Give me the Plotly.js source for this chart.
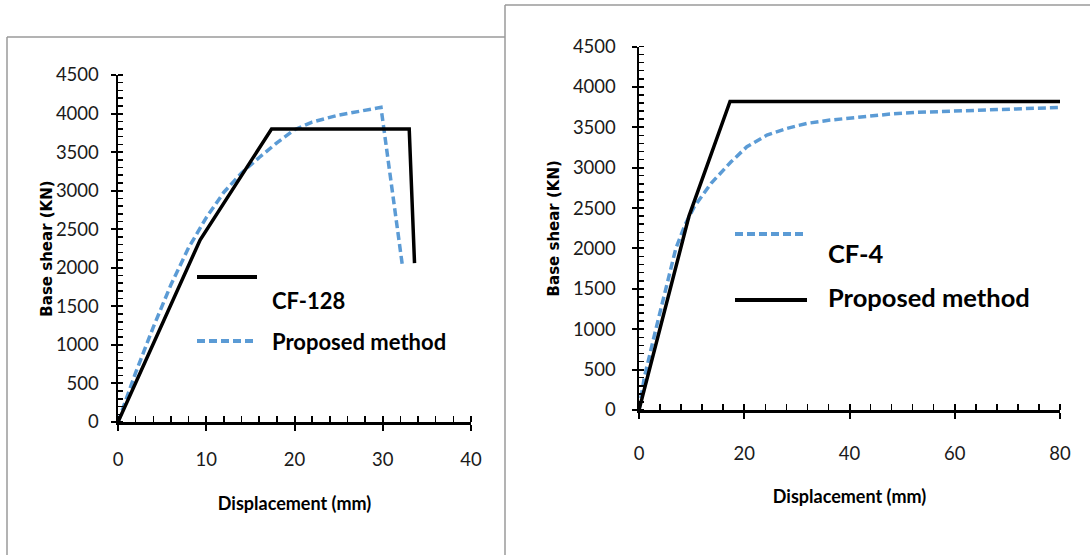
<!DOCTYPE html>
<html><head><meta charset="utf-8">
<script src="https://cdn.plot.ly/plotly-3.0.1.min.js"></script>
<style>html,body{margin:0;padding:0;background:#fff}#chart{width:1090px;height:555px}</style>
</head><body><div id="chart"></div>
<script>
// ---- Left panel data (CF-128 vs Proposed method) ----
const leftCF128Disp  = [0, 9.3, 17.4, 33.0, 33.6];
const leftCF128Shear = [0, 2360, 3800, 3800, 2060];
const leftPropDisp   = [0, 2, 4, 6, 8, 10, 12, 14, 16, 18, 20, 22, 25, 28, 29.8, 32.2];
const leftPropShear  = [0, 640, 1230, 1780, 2260, 2650, 2980, 3230, 3430, 3620, 3790, 3890, 3980, 4040, 4080, 2050];

// ---- Right panel data (CF-4 vs Proposed method) ----
const rightCF4Disp   = [0, 1, 3.2, 5, 7, 8.8, 10.5, 13.7, 17.5, 20.5, 24.3, 28.1, 31.9, 36.3, 42, 47.7, 52.8, 59.1, 65.5, 71.8, 80];
const rightCF4Shear  = [0, 400, 1000, 1480, 2000, 2300, 2516, 2806, 3073, 3259, 3403, 3486, 3548, 3589, 3630, 3663, 3684, 3700, 3713, 3725, 3746];
const rightPropDisp  = [0, 9.5, 17.3, 80];
const rightPropShear = [0, 2400, 3820, 3820];

// ---- Ticks & labels ----
const leftXTicks  = [0, 10, 20, 30, 40];
const rightXTicks = [0, 20, 40, 60, 80];
const yTicks      = [0, 500, 1000, 1500, 2000, 2500, 3000, 3500, 4000, 4500];
const xTitle = 'Displacement (mm)';
const yTitle = 'Base shear (KN)';
const leftLegend  = ['CF-128', 'Proposed method'];
const rightLegend = ['CF-4', 'Proposed method'];

const W = 1090, H = 555;
const px = v => v / W;
const py = v => 1 - v / H;

const BLUE = '#5B9BD5';
const narrow = 'Lato, "Liberation Sans", sans-serif';
const tickFont = {family: narrow, size: 18.5, color: '#1a1a1a'};
const xTitleFont = {family: narrow, size: 18, color: '#000', weight: 'bold'};
const yTitleFont = {family: '"DejaVu Sans",Verdana,sans-serif', size: 15, color: '#000', weight: 'bold'};

function mainX(domain, range, ticks, minorDtick, anchor, standoffLbl, titleStandoff) {
  return {domain, range, anchor, tickmode: 'array', tickvals: ticks, ticktext: ticks.map(String),
    ticks: 'outside', ticklen: 6, tickwidth: 2, tickcolor: '#000',
    showline: true, linecolor: '#000', linewidth: 2.5, showgrid: false, zeroline: false,
    minor: {tickmode: 'linear', tick0: 0, dtick: minorDtick, ticks: 'inside', ticklen: 6, tickwidth: 1.5, tickcolor: '#000', showgrid: false},
    tickfont: tickFont, ticklabelstandoff: standoffLbl, automargin: false, fixedrange: true,
    title: {text: xTitle, font: xTitleFont, standoff: titleStandoff}};
}
function overX(base, range, ticks, anchor) {
  return {overlaying: base, anchor, range, tickmode: 'array', tickvals: ticks,
    ticks: 'inside', ticklen: 6, tickwidth: 2, tickcolor: '#000', showticklabels: false,
    showline: false, showgrid: false, zeroline: false, automargin: false, fixedrange: true};
}
function mainY(domain, anchor, standoffLbl, titleStandoff) {
  return {domain, range: [0, 4500], anchor, tickmode: 'array', tickvals: yTicks, ticktext: yTicks.map(String),
    ticks: 'outside', ticklen: 5, tickwidth: 2, tickcolor: '#000',
    showline: true, linecolor: '#000', linewidth: 2.5, showgrid: false, zeroline: false,
    minor: {tickmode: 'linear', tick0: 0, dtick: 100, ticks: 'inside', ticklen: 5, tickwidth: 1.5, tickcolor: '#000', showgrid: false},
    tickfont: tickFont, ticklabelstandoff: standoffLbl, automargin: false, fixedrange: true,
    title: {text: yTitle, font: yTitleFont, standoff: titleStandoff}};
}
function overY(base, anchor) {
  return {overlaying: base, anchor, range: [0, 4500], tickmode: 'array', tickvals: yTicks,
    ticks: 'inside', ticklen: 5, tickwidth: 2, tickcolor: '#000', showticklabels: false,
    showline: false, showgrid: false, zeroline: false, automargin: false, fixedrange: true};
}

const solid = {color: '#000', width: 3.5};
const dashed = {color: BLUE, width: 3.5, dash: '8px,4px'};

const traces = [
  {x: leftCF128Disp, y: leftCF128Shear, xaxis: 'x3', yaxis: 'y', mode: 'lines', line: solid, name: leftLegend[0], hoverinfo: 'skip'},
  {x: leftPropDisp, y: leftPropShear, xaxis: 'x', yaxis: 'y3', mode: 'lines', line: dashed, name: leftLegend[1], hoverinfo: 'skip'},
  {x: rightPropDisp, y: rightPropShear, xaxis: 'x4', yaxis: 'y2', mode: 'lines', line: solid, name: rightLegend[1], hoverinfo: 'skip'},
  {x: rightCF4Disp, y: rightCF4Shear, xaxis: 'x2', yaxis: 'y4', mode: 'lines', line: dashed, name: rightLegend[0], hoverinfo: 'skip'}
];

const border = {type: 'line', xref: 'paper', yref: 'paper', line: {color: '#9a9a9a', width: 1.5}};
const shapes = [
  Object.assign({x0: px(7), x1: px(505), y0: py(37), y1: py(37)}, border),
  Object.assign({x0: px(7), x1: px(7), y0: py(37), y1: py(560)}, border),
  Object.assign({x0: px(505), x1: px(505), y0: py(5), y1: py(560)}, border),
  Object.assign({x0: px(505), x1: px(1095), y0: py(5), y1: py(5)}, border),
  // legend keys
  {type: 'line', xref: 'paper', yref: 'paper', x0: px(197), x1: px(257), y0: py(277), y1: py(277), line: {color: '#000', width: 4}},
  {type: 'line', xref: 'paper', yref: 'paper', x0: px(197), x1: px(257), y0: py(341), y1: py(341), line: {color: BLUE, width: 4, dash: '8px,4px'}},
  {type: 'line', xref: 'paper', yref: 'paper', x0: px(735), x1: px(807), y0: py(234), y1: py(234), line: {color: BLUE, width: 4, dash: '8px,4px'}},
  {type: 'line', xref: 'paper', yref: 'paper', x0: px(735), x1: px(807), y0: py(300), y1: py(300), line: {color: '#000', width: 4}}
];

const legFontL = {family: narrow, size: 22, color: '#000', weight: 'bold'};
const legFontR = {family: narrow, size: 25.5, color: '#000', weight: 'bold'};
const ann = (text, x, y, font) => ({text, xref: 'paper', yref: 'paper', x: px(x), y: py(y), xanchor: 'left', yanchor: 'middle', showarrow: false, font});
const annotations = [
  ann(leftLegend[0], 270, 300, legFontL),
  ann(leftLegend[1], 270, 341, legFontL),
  ann(rightLegend[0], 826, 253, legFontR),
  ann(rightLegend[1], 826, 297, legFontR)
];

const layout = {
  width: W, height: H, margin: {l: 0, r: 0, t: 0, b: 0},
  paper_bgcolor: '#fff', plot_bgcolor: 'rgba(0,0,0,0)', showlegend: false,
  xaxis: mainX([px(118), px(471)], [0, 40], leftXTicks, 2, 'y', 13, 29),
  yaxis: mainY([py(422), py(75)], 'x', 8, 0),
  xaxis3: overX('x', [0, 40], leftXTicks, 'y'),
  yaxis3: overY('y', 'x'),
  xaxis2: mainX([px(639), px(1060)], [0, 80], rightXTicks, 4, 'y2', 19, 28),
  yaxis2: mainY([py(410), py(46.5)], 'x2', 12, 10),
  xaxis4: overX('x2', [0, 80], rightXTicks, 'y2'),
  yaxis4: overY('y2', 'x2'),
  shapes, annotations
};

Plotly.newPlot('chart', traces, layout, {staticPlot: true, displayModeBar: false});
</script>
</body></html>
